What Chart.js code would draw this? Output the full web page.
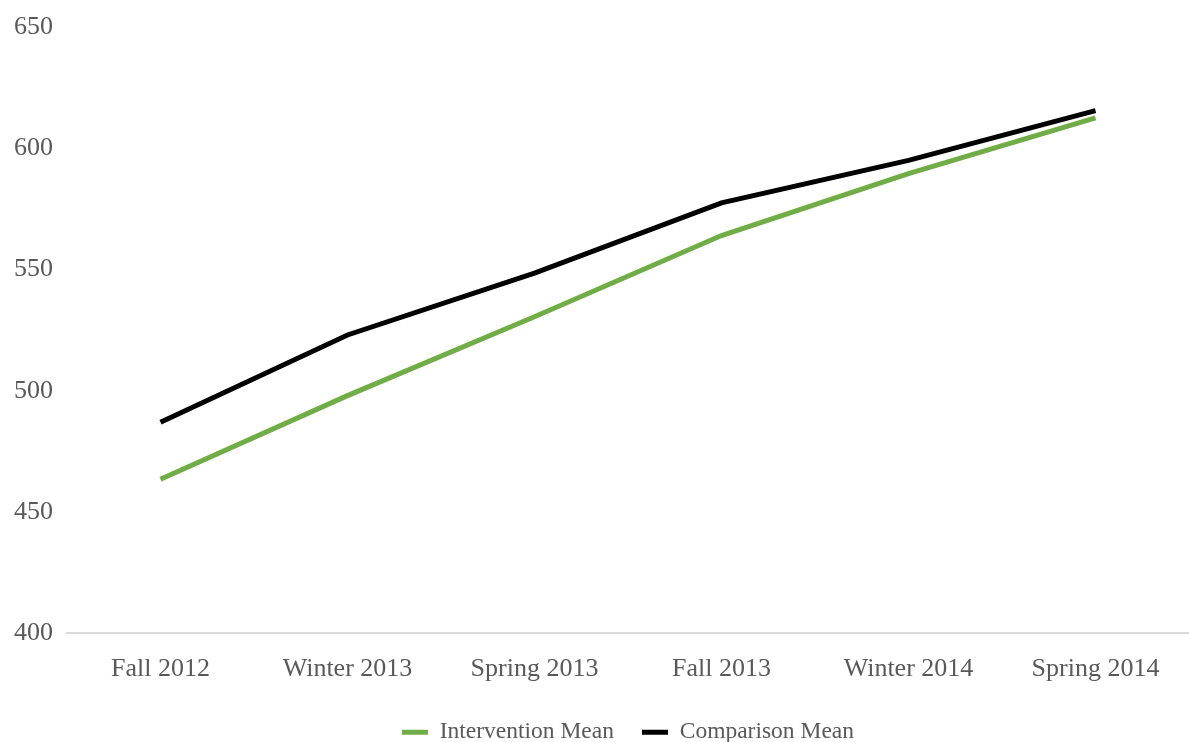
<!DOCTYPE html>
<html>
<head>
<meta charset="utf-8">
<script src="https://cdn.jsdelivr.net/npm/chart.js@4"></script>
<style>
  html, body { margin: 0; padding: 0; background: #fff; }
  #wrap { width: 1189px; height: 742px; position: relative; }
</style>
</head>
<body>
<div id="wrap"><canvas id="lineChart"></canvas></div>
<script>
// terms
const terms = ['Fall 2012', 'Winter 2013', 'Spring 2013', 'Fall 2013', 'Winter 2014', 'Spring 2014'];
// mean scores
const interventionMean = [463.5, 498, 530.5, 564, 589.5, 612.5];
const comparisonMean = [487, 523, 548.5, 577.5, 595, 615.5];
// y axis
const yMin = 400;
const yMax = 650;
const yStep = 50;

const serif = '"Liberation Serif", "Times New Roman", serif';

const ctx = document.getElementById('lineChart');
new Chart(ctx, {
    type: 'line',
    data: {
        labels: terms,
        datasets: [{
            label: 'Intervention Mean',
            data: interventionMean,
            borderColor: '#70AD47',
            backgroundColor: '#70AD47',
            borderWidth: 5,
            pointRadius: 0,
            tension: 0
        }, {
            label: 'Comparison Mean',
            data: comparisonMean,
            borderColor: '#000000',
            backgroundColor: '#000000',
            borderWidth: 5,
            pointRadius: 0,
            tension: 0
        }]
    },
    options: {
        responsive: true,
        maintainAspectRatio: false,
        animation: false,
        layout: { padding: { top: 0, right: 0, left: 0, bottom: -12 } },
        scales: {
            x: {
                offset: true,
                afterFit: (scale) => { scale.height -= 12; },
                grid: { display: false, drawTicks: false, offset: true },
                border: { display: true, color: '#D9D9D9', width: 2 },
                ticks: {
                    color: '#595959',
                    font: { family: serif, size: 26 },
                    padding: 20
                }
            },
            y: {
                min: yMin,
                max: yMax,
                afterFit: (scale) => { scale.width = 67; },
                grid: { display: false, drawTicks: false },
                border: { display: false },
                ticks: {
                    stepSize: yStep,
                    color: '#595959',
                    font: { family: serif, size: 26, lineHeight: 1 },
                    padding: 14
                }
            }
        },
        plugins: {
            legend: {
                position: 'bottom',
                fullSize: false,
                labels: {
                    color: '#595959',
                    font: { family: serif, size: 23.5 },
                    usePointStyle: true,
                    pointStyle: 'line',
                    pointStyleWidth: 26,
                    padding: 28
                }
            },
            tooltip: { enabled: false }
        }
    }
});
</script>
</body>
</html>
